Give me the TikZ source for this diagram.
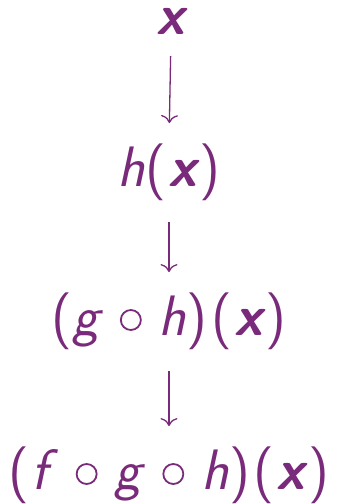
\documentclass[tikz,border=0pt]{standalone}
\usetikzlibrary{arrows.meta}
\definecolor{plum}{RGB}{122,42,122}
\newcommand\cmp{\hspace{0.3em}\tikz[baseline={(0pt,-16pt)}]\draw[draw=plum, line width=1.8pt] (0pt,0pt) circle (10pt);\hspace{0.3em}}
\newcommand\bx{{\bfseries\itshape x}}
\newcommand\ofx{\kern4pt(\kern2pt\bx\kern3pt)}
\newcommand\itl[1]{{\itshape #1\/}}
\tikzset{
  expr/.style={text=plum, inner sep=0pt, anchor=base, font=\fontsize{57}{60}\selectfont\sffamily},
  flow/.style={draw=plum, line width=1.3pt, -{To[length=8pt,width=17pt]}, shorten <=21pt, shorten >=21pt}
}
\begin{document}
\begin{tikzpicture}[x=1pt,y=1pt]
\useasboundingbox (0,0) rectangle (338,504);
\node[expr] (a) at (171,469) {\bx};
\node[expr] (b) at (169,317) {\itl{h}(\kern2pt\bx\kern3pt)};
\node[expr] (c) at (169,168) {(\itl{g}\cmp\itl{h})\ofx};
\node[expr] (d) at (169,14) {(\kern2pt\itl{f}\cmp\itl{g}\cmp\itl{h})\ofx};
\draw[flow] (a.south) -- (b.north);
\draw[flow] (b.south) -- (c.north);
\draw[flow] (c.south) -- (d.north);
\end{tikzpicture}
\end{document}
